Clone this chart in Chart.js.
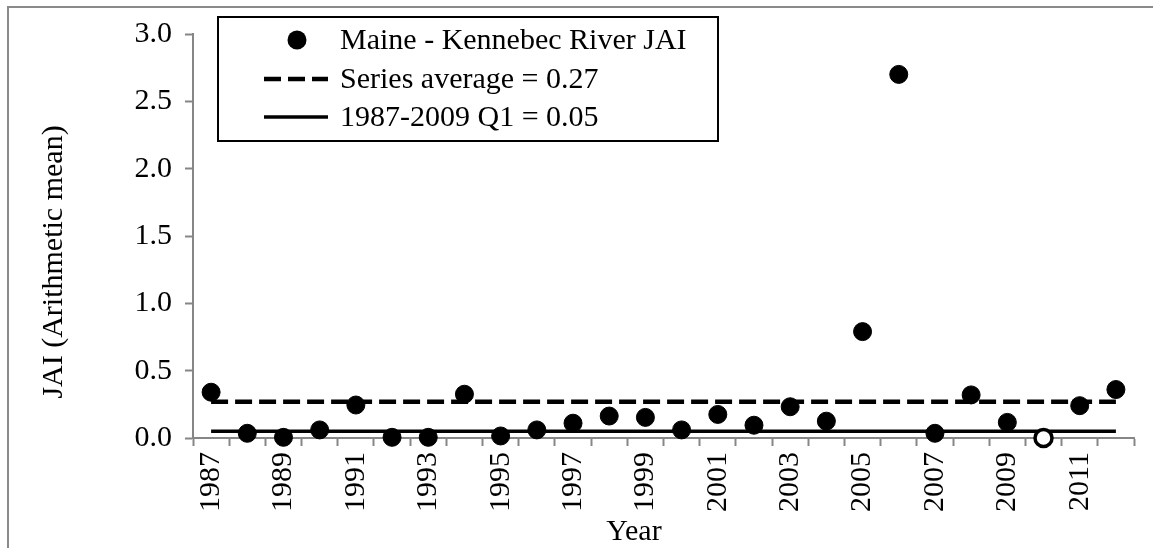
<!DOCTYPE html>
<html>
<head>
<meta charset="utf-8">
<script src="https://cdn.jsdelivr.net/npm/chart.js@4.4.1/dist/chart.umd.min.js"></script>
<style>
  html, body { margin: 0; padding: 0; background: #fff; overflow: hidden; }
  #marco { position: absolute; left: 7px; top: 6px; width: 1300px; height: 700px; border-left: 2px solid #8a8a8a; border-top: 2px solid #8a8a8a; }
  #contenedor { position: absolute; left: 0; top: 0; }
</style>
</head>
<body>
<div id="marco"></div>
<div id="contenedor"><canvas id="JAI" width="1153" height="548"></canvas></div>
<script>
// datos
const anios = [1987, 1988, 1989, 1990, 1991, 1992, 1993, 1994, 1995, 1996, 1997, 1998, 1999,
               2000, 2001, 2002, 2003, 2004, 2005, 2006, 2007, 2008, 2009, 2010, 2011, 2012];
const valoresJAI = [0.34, 0.035, 0.005, 0.06, 0.245, 0.005, 0.005, 0.325, 0.015, 0.06, 0.11, 0.163, 0.153,
                    0.06, 0.175, 0.095, 0.232, 0.125, 0.79, 2.70, 0.035, 0.32, 0.116, 0.0, 0.24, 0.36];
const etiquetasEje = ['1987', '1989', '1991', '1993', '1995', '1997', '1999', '2001', '2003', '2005', '2007', '2009', '2011'];
const etiquetasY = ['0.0', '0.5', '1.0', '1.5', '2.0', '2.5', '3.0'];
const anioHueco = 2010;   // punto sin relleno
const promedioSerie = 0.27;
const q1 = 0.05;

const NEGRO = '#000';
const GRIS = '#868686';
const fuente = { family: '"Liberation Serif", "Times New Roman", serif', size: 30 };
const fuenteCSS = '30px "Liberation Serif", "Times New Roman", serif';

// leyenda dentro del area del grafico + titulos de ejes
const extras = {
  id: 'extras',
  afterDraw(chart) {
    const ctx = chart.ctx;
    const ds = chart.data.datasets;
    ctx.save();
    ctx.fillStyle = '#fff';
    ctx.fillRect(218, 17, 500, 124);
    ctx.lineWidth = 2;
    ctx.strokeStyle = NEGRO;
    ctx.strokeRect(218, 17, 500, 124);

    const filas = [40, 79, 117];
    // fila 1: punto
    ctx.fillStyle = NEGRO;
    ctx.beginPath();
    ctx.arc(297, filas[0], 9.5, 0, Math.PI * 2);
    ctx.fill();
    // fila 2: discontinua
    ctx.lineWidth = ds[1].borderWidth;
    ctx.setLineDash(ds[1].borderDash);
    ctx.beginPath();
    ctx.moveTo(264, filas[1]);
    ctx.lineTo(328, filas[1]);
    ctx.stroke();
    // fila 3: continua
    ctx.setLineDash([]);
    ctx.lineWidth = ds[2].borderWidth;
    ctx.beginPath();
    ctx.moveTo(264, filas[2]);
    ctx.lineTo(328, filas[2]);
    ctx.stroke();

    ctx.font = fuenteCSS;
    ctx.textBaseline = 'middle';
    ctx.textAlign = 'left';
    ds.forEach((d, i) => ctx.fillText(d.label, 340, filas[i] + 1));

    // titulo eje X
    ctx.textAlign = 'center';
    ctx.fillText('Year', 634, 532);
    // titulo eje Y
    ctx.translate(54, 262);
    ctx.rotate(-Math.PI / 2);
    ctx.fillText('JAI (Arithmetic mean)', 0, 0);
    ctx.restore();
  }
};

var grafico = new Chart(document.getElementById('JAI'), {
  type: 'line',
  data: {
    labels: anios,
    datasets: [
      {
        label: 'Maine - Kennebec River JAI',
        data: valoresJAI,
        showLine: false,
        clip: false,
        pointRadius: ctx => anios[ctx.dataIndex] === anioHueco ? 8.5 : 9,
        pointHoverRadius: ctx => anios[ctx.dataIndex] === anioHueco ? 8.5 : 9,
        pointBorderWidth: ctx => anios[ctx.dataIndex] === anioHueco ? 3.5 : 1,
        pointBackgroundColor: ctx => anios[ctx.dataIndex] === anioHueco ? '#fff' : NEGRO,
        pointBorderColor: NEGRO
      },
      {
        label: 'Series average = ' + promedioSerie.toFixed(2),
        data: anios.map(() => promedioSerie),
        borderColor: NEGRO,
        borderWidth: 4.5,
        borderDash: [17, 7],
        pointRadius: 0,
        fill: false
      },
      {
        label: '1987-2009 Q1 = ' + q1.toFixed(2),
        data: anios.map(() => q1),
        borderColor: NEGRO,
        borderWidth: 3.5,
        pointRadius: 0,
        fill: false
      }
    ]
  },
  options: {
    responsive: false,
    animation: false,
    devicePixelRatio: 1,
    layout: { padding: { top: 34, right: 19, left: 0, bottom: 0 } },
    plugins: {
      legend: { display: false },
      tooltip: { enabled: false }
    },
    scales: {
      x: {
        type: 'category',
        offset: true,
        grid: { offset: true, drawOnChartArea: false, tickLength: 8, tickColor: GRIS, tickWidth: 2 },
        border: { color: GRIS, width: 2 },
        ticks: {
          color: NEGRO,
          font: fuente,
          autoSkip: false,
          minRotation: 90,
          maxRotation: 90,
          padding: 6,
          callback: (v, i) => etiquetasEje.includes(String(anios[i])) ? String(anios[i]) : ''
        },
        afterFit: (s) => { s.height = 110; s.paddingLeft = 0; s.paddingRight = 0; }
      },
      y: {
        min: 0,
        max: 3,
        grid: { drawOnChartArea: false, tickLength: 8, tickColor: GRIS, tickWidth: 2 },
        border: { color: GRIS, width: 2 },
        ticks: {
          stepSize: 0.5,
          color: NEGRO,
          font: fuente,
          padding: 13,
          callback: (v, i) => etiquetasY[i]
        },
        afterFit: (s) => { s.width = 193; }
      }
    }
  },
  plugins: [extras]
});
</script>
</body>
</html>
